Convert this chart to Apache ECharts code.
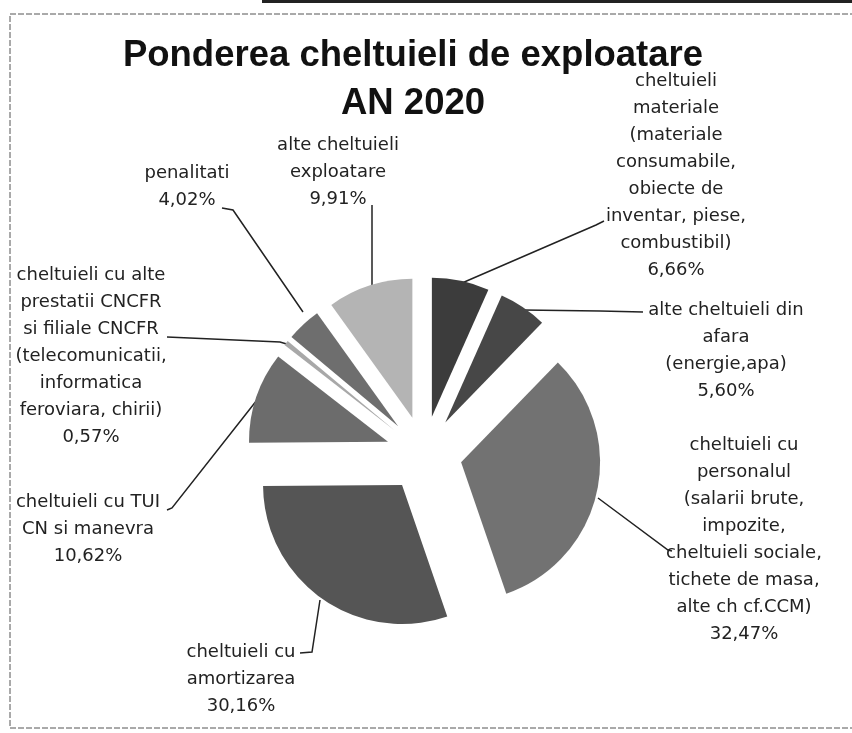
<!DOCTYPE html>
<html>
<head>
<meta charset="utf-8">
<script src="https://cdn.jsdelivr.net/npm/echarts@6/dist/echarts.min.js"></script>
<style>
  html, body { margin: 0; padding: 0; background: #fff; }
  #chart { width: 852px; height: 733px; }
</style>
</head>
<body>
<div id="chart"></div>
<script>
// data, clockwise from 12 o'clock
const categories = [
  'cheltuieli materiale',
  'alte cheltuieli din afara',
  'cheltuieli cu personalul',
  'cheltuieli cu amortizarea',
  'cheltuieli cu TUI CN si manevra',
  'cheltuieli cu alte prestatii CNCFR',
  'penalitati',
  'alte cheltuieli exploatare'
]
const shares = [6.66, 5.60, 32.47, 30.16, 10.62, 0.57, 4.02, 9.91]
const labelTexts = [
  'cheltuieli\nmateriale\n(materiale\nconsumabile,\nobiecte de\ninventar, piese,\ncombustibil)',
  'alte cheltuieli din\nafara\n(energie,apa)',
  'cheltuieli cu\npersonalul\n(salarii brute,\nimpozite,\ncheltuieli sociale,\ntichete de masa,\nalte ch cf.CCM)',
  'cheltuieli cu\namortizarea',
  'cheltuieli cu TUI\nCN si manevra',
  'cheltuieli cu alte\nprestatii CNCFR\nsi filiale CNCFR\n(telecomunicatii,\ninformatica\nferoviara, chirii)',
  'penalitati',
  'alte cheltuieli\nexploatare'
]

// greys standing in for the scanned dither patterns
const sliceColors = ['#3c3c3c', '#474747', '#727272', '#555555', '#6c6c6c', '#a8a8a8', '#6e6e6e', '#b4b4b4']

// label placement: [centre x, top y]
const labelSpots = [[676, 68], [726, 297], [744, 432], [241, 639], [88, 489], [91, 262], [187, 160], [338, 132]]
// leader lines from slice to label
const leaderPaths = [
  [[462, 283], [596, 225], [604, 221]],
  [[523, 310], [600, 311], [643, 312]],
  [[598, 498], [668, 550], [672, 551]],
  [[320, 600], [312, 652], [300, 653]],
  [[257, 400], [172, 508], [167, 510]],
  [[290, 345], [280, 342], [167, 337]],
  [[303, 312], [233, 210], [222, 208]],
  [[372, 292], [372, 210], [372, 205]]
]

const chart = echarts.init(document.getElementById('chart'))

const pct = v => v.toFixed(2).replace('.', ',') + '%'
const pieCenter = [424, 454]

chart.setOption({
  backgroundColor: '#fff',
  animation: false,
  title: {
    text: 'Ponderea cheltuieli de exploatare\nAN 2020',
    left: 408,
    top: 27,
    textAlign: 'center',
    textStyle: {
      fontFamily: 'Liberation Sans',
      fontWeight: 'bold',
      fontSize: 36.5,
      lineHeight: 48,
      color: '#111'
    }
  },
  graphic: [
    {
      type: 'rect',
      shape: { x: 10, y: 14, width: 850, height: 714 },
      style: { fill: 'none', stroke: '#555', lineWidth: 1, lineDash: [6, 2] }
    },
    {
      type: 'rect',
      shape: { x: 262, y: 0, width: 590, height: 3 },
      style: { fill: '#222' }
    }
  ],
  series: [
    // exploded slices
    {
      type: 'pie',
      center: pieCenter,
      radius: 139,
      startAngle: 90,
      selectedMode: 'multiple',
      selectedOffset: 38,
      emphasis: { disabled: true },
      label: { show: false },
      labelLine: { show: false },
      data: categories.map((name, i) => ({
        name: name,
        value: shares[i],
        selected: true,
        itemStyle: { color: sliceColors[i] }
      }))
    },
    // same data, invisible sectors, carries the labels
    {
      type: 'pie',
      center: pieCenter,
      radius: 139,
      startAngle: 90,
      silent: true,
      avoidLabelOverlap: false,
      emphasis: { disabled: true },
      itemStyle: { color: 'rgba(0,0,0,0)' },
      label: {
        position: 'outside',
        fontFamily: 'DejaVu Sans',
        fontSize: 18,
        lineHeight: 27,
        color: '#222',
        align: 'center',
        formatter: p => labelTexts[p.dataIndex] + '\n' + pct(p.value)
      },
      labelLine: {
        show: true,
        lineStyle: { color: '#222', width: 1.5 }
      },
      labelLayout: p => {
        const spot = labelSpots[p.dataIndex]
        return {
          x: spot[0],
          y: spot[1],
          align: 'center',
          verticalAlign: 'top',
          labelLinePoints: leaderPaths[p.dataIndex]
        }
      },
      data: categories.map((name, i) => ({ name: name, value: shares[i] }))
    }
  ]
})
</script>
</body>
</html>
